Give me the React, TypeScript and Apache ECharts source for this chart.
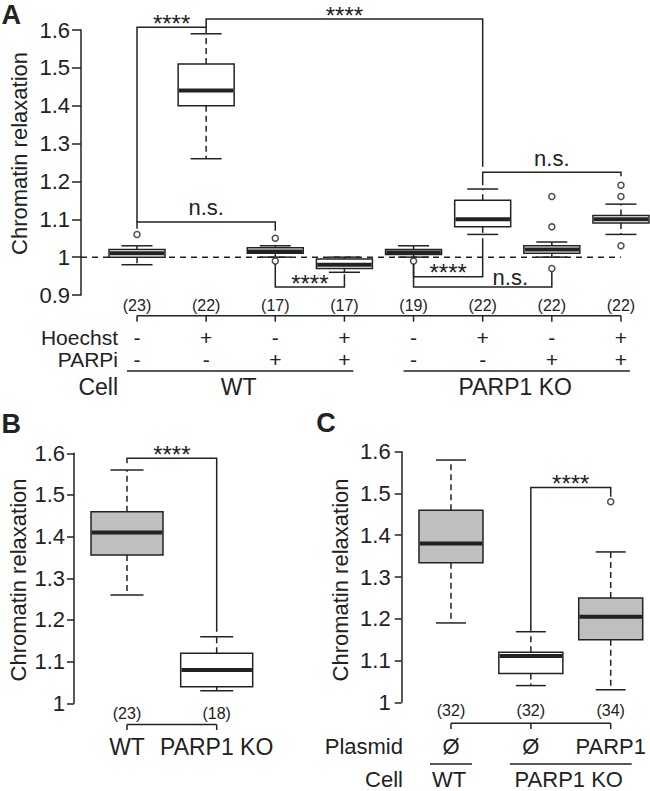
import React, { useEffect, useRef } from 'react';
import * as echarts from 'echarts';

const FONT = '"Liberation Sans", Arial, Helvetica, sans-serif';
const INK = '#222222';
const GRAY = '#bfbfbf';

// ---------------- Panel A ----------------
const hoechstA = ['-', '+', '-', '+', '-', '+', '-', '+'];
const parpiA = ['-', '-', '+', '+', '-', '-', '+', '+'];
const countsA = ['(23)', '(22)', '(17)', '(17)', '(19)', '(22)', '(22)', '(22)'];
const minA = [0.98, 1.26, 1.0, 0.96, 1.0, 1.06, 1.0, 1.06];
const q1A = [1.0, 1.4, 1.01, 0.97, 1.007, 1.08, 1.01, 1.09];
const medA = [1.01, 1.44, 1.015, 0.98, 1.012, 1.1, 1.02, 1.1];
const q3A = [1.02, 1.51, 1.025, 0.995, 1.02, 1.15, 1.03, 1.11];
const maxA = [1.03, 1.59, 1.03, 1.0, 1.03, 1.18, 1.04, 1.14];
const grayA = [false, false, false, false, false, false, false, false];
const outliersA = [
  [0, 1.06], [2, 1.05], [2, 0.99], [4, 0.99],
  [6, 1.16], [6, 1.08], [6, 0.97], [7, 1.19], [7, 1.16], [7, 1.03],
];
const cellA = [
  { name: 'WT', from: 0, to: 3 },
  { name: 'PARP1 KO', from: 4, to: 7 },
];
const bracketsA = [
  { from: 0, to: 1, level: 1.607, fromEnd: 1.093, toEnd: 1.592, label: '****', at: 0.5 },
  { from: 1, to: 5, level: 1.629, fromEnd: 1.607, toEnd: 1.239, label: '****', at: 3 },
  { from: 0, to: 2, level: 1.093, fromEnd: 1.075, toEnd: 1.07, label: 'n.s.', at: 1 },
  { from: 2, to: 3, level: 0.921, fromEnd: 0.982, toEnd: 0.955, label: '****', at: 2.5 },
  { from: 4, to: 5, level: 0.948, fromEnd: 0.982, toEnd: 1.05, label: '****', at: 4.5 },
  { from: 4, to: 6, level: 0.921, fromEnd: 0.982, toEnd: 0.962, label: 'n.s.', at: 5.4 },
  { from: 5, to: 7, level: 1.224, fromEnd: 1.19, toEnd: 1.214, label: 'n.s.', at: 6 },
];
const refLineA = 1.0;

// ---------------- Panel B ----------------
const cellB = ['WT', 'PARP1 KO'];
const countsB = ['(23)', '(18)'];
const minB = [1.26, 1.03];
const q1B = [1.356, 1.04];
const medB = [1.41, 1.08];
const q3B = [1.46, 1.12];
const maxB = [1.56, 1.16];
const grayB = [true, false];
const bracketsB = [
  { from: 0, to: 1, level: 1.588, fromEnd: 1.576, toEnd: 1.172, label: '****', at: 0.5 },
];

// ---------------- Panel C ----------------
const plasmidC = ['Ø', 'Ø', 'PARP1'];
const countsC = ['(32)', '(32)', '(34)'];
const minC = [1.19, 1.04, 1.03];
const q1C = [1.334, 1.069, 1.15];
const medC = [1.38, 1.111, 1.205];
const q3C = [1.46, 1.12, 1.25];
const maxC = [1.58, 1.169, 1.36];
const grayC = [true, false, true];
const outliersC = [[2, 1.48]];
const cellC = [
  { name: 'WT', from: 0, to: 0 },
  { name: 'PARP1 KO', from: 1, to: 2 },
];
const bracketsC = [
  { from: 1, to: 2, level: 1.514, fromEnd: 1.17, toEnd: 1.492, label: '****', at: 1.5 },
];

const zip5 = (a: number[], b: number[], c: number[], d: number[], e: number[]) =>
  a.map((v, i) => [i, v, b[i], c[i], d[i], e[i]]);

const txtStyle = (text: string, size: number, extra: any = {}) => ({
  text,
  fontSize: size,
  lineHeight: Math.round(size * 0.9),
  fontFamily: FONT,
  fill: INK,
  align: 'center',
  verticalAlign: 'middle',
  ...extra,
});

function boxSeries(gi: number, data: number[][], gray: boolean[], boxW: number, capW: number) {
  return {
    type: 'custom',
    xAxisIndex: gi,
    yAxisIndex: gi,
    clip: false,
    z: 3,
    data,
    encode: { x: 0, y: [1, 2, 3, 4, 5] },
    renderItem: (params: any, api: any) => {
      const i = api.value(0);
      const p = (v: number) => api.coord([i, v]);
      const [cx, yMin] = p(api.value(1));
      const yQ1 = p(api.value(2))[1];
      const yMed = p(api.value(3))[1];
      const yQ3 = p(api.value(4))[1];
      const yMax = p(api.value(5))[1];
      const h = boxW / 2;
      const c = capW / 2;
      const ln = (x1: number, y1: number, x2: number, y2: number, extra: any = {}) => ({
        type: 'line',
        shape: { x1, y1, x2, y2 },
        style: { stroke: INK, lineWidth: 1.5, ...extra },
      });
      return {
        type: 'group',
        children: [
          ln(cx, yQ3, cx, yMax, { lineDash: [6, 4] }),
          ln(cx, yQ1, cx, yMin, { lineDash: [6, 4] }),
          ln(cx - c, yMax, cx + c, yMax),
          ln(cx - c, yMin, cx + c, yMin),
          {
            type: 'rect',
            shape: { x: cx - h, y: yQ3, width: boxW, height: yQ1 - yQ3 },
            style: { fill: gray[params.dataIndex] ? GRAY : '#ffffff', stroke: INK, lineWidth: 1.5 },
          },
          ln(cx - h + 0.75, yMed, cx + h - 0.75, yMed, { lineWidth: 4 }),
        ],
      };
    },
  };
}

function bracketSeries(gi: number, brackets: any[]) {
  return {
    type: 'custom',
    xAxisIndex: gi,
    yAxisIndex: gi,
    clip: false,
    z: 4,
    data: brackets.map((b) => [b.from, b.level]),
    encode: { x: 0, y: 1 },
    renderItem: (params: any, api: any) => {
      const b = brackets[params.dataIndex];
      const a = api.coord([b.from, b.fromEnd]);
      const l1 = api.coord([b.from, b.level]);
      const l2 = api.coord([b.to, b.level]);
      const e = api.coord([b.to, b.toEnd]);
      const t = api.coord([b.at, b.level]);
      const star = b.label === '****';
      const below = b.level < b.fromEnd;
      const gap = star ? 4 : below ? 10 : 14;
      return {
        type: 'group',
        children: [
          {
            type: 'polyline',
            shape: { points: [a, l1, l2, e] },
            style: { stroke: INK, lineWidth: 1.5, fill: null },
          },
          {
            type: 'text',
            x: t[0],
            y: t[1] - gap,
            style: txtStyle(b.label, star ? 24 : 22),
          },
        ],
      };
    },
  };
}

function outlierSeries(gi: number, data: number[][]) {
  return {
    type: 'scatter',
    xAxisIndex: gi,
    yAxisIndex: gi,
    z: 5,
    symbol: 'circle',
    symbolSize: 6,
    itemStyle: { color: '#ffffff', borderColor: INK, borderWidth: 1.5 },
    data,
  };
}

// per-category labels under the plot: rows of texts + bracket with ticks
function categoryRowsSeries(
  gi: number,
  n: number,
  rows: { texts: string[]; y: number; size: number }[],
  bracketY: number,
  tickLen: number
) {
  const data = Array.from({ length: n }, (_, i) => [i, 0]);
  return {
    type: 'custom',
    xAxisIndex: gi,
    yAxisIndex: gi,
    clip: false,
    z: 4,
    data,
    encode: { x: 0 },
    renderItem: (params: any, api: any) => {
      const i = params.dataIndex;
      const cx = api.coord([i, 1])[0];
      const children: any[] = [
        {
          type: 'line',
          shape: { x1: cx, y1: bracketY, x2: cx, y2: bracketY + tickLen },
          style: { stroke: INK, lineWidth: 1.5 },
        },
      ];
      if (i === 0) {
        const xe = api.coord([n - 1, 1])[0];
        children.push({
          type: 'line',
          shape: { x1: cx, y1: bracketY, x2: xe, y2: bracketY },
          style: { stroke: INK, lineWidth: 1.5 },
        });
      }
      rows.forEach((r) => {
        children.push({
          type: 'text',
          x: cx,
          y: r.y,
          style: txtStyle(r.texts[i], r.size),
        });
      });
      return { type: 'group', children };
    },
  };
}

function groupSeries(
  gi: number,
  groups: any[],
  lineY: number,
  labelY: number,
  padL: number,
  padR: number,
  size: number
) {
  return {
    type: 'custom',
    xAxisIndex: gi,
    yAxisIndex: gi,
    clip: false,
    z: 4,
    data: groups.map((g) => [g.from, 0]),
    encode: { x: 0 },
    renderItem: (params: any, api: any) => {
      const g = groups[params.dataIndex];
      const x1 = api.coord([g.from, 1])[0];
      const x2 = api.coord([g.to, 1])[0];
      return {
        type: 'group',
        children: [
          {
            type: 'line',
            shape: { x1: x1 - padL, y1: lineY, x2: x2 + padR, y2: lineY },
            style: { stroke: INK, lineWidth: 1.5 },
          },
          {
            type: 'text',
            x: (x1 + x2) / 2 - 2,
            y: labelY,
            style: txtStyle(g.name, size),
          },
        ],
      };
    },
  };
}

function refLineSeries(gi: number, x0: number, x1: number, y: number) {
  return {
    type: 'custom',
    xAxisIndex: gi,
    yAxisIndex: gi,
    clip: false,
    z: 2,
    data: [[x0, y, x1]],
    encode: { x: 0, y: 1 },
    renderItem: (params: any, api: any) => {
      const a = api.coord([api.value(0), api.value(1)]);
      const b = api.coord([api.value(2), api.value(1)]);
      return {
        type: 'line',
        shape: { x1: a[0], y1: a[1], x2: b[0], y2: b[1] },
        style: { stroke: INK, lineWidth: 1.5, lineDash: [6, 5] },
      };
    },
  };
}

function yAxis(gi: number, min: number, max: number, margin: number, tick: number) {
  return {
    gridIndex: gi,
    type: 'value',
    min,
    max,
    interval: 0.1,
    axisLine: { show: true, onZero: false, lineStyle: { color: INK, width: 1.5 } },
    axisTick: { show: true, length: tick, lineStyle: { color: INK, width: 1.5 } },
    axisLabel: { fontSize: 22, color: INK, fontFamily: FONT, margin },
    splitLine: { show: false },
  };
}

const xMinA = -0.81;

function buildOption() {
  const text = (t: string, x: number, y: number, opts: any = {}) => ({
    type: 'text',
    x,
    y,
    rotation: opts.rotation || 0,
    style: txtStyle(t, opts.size || 22, {
      fontWeight: opts.bold ? 'bold' : 'normal',
      align: opts.align || 'center',
    }),
  });
  return {
    animation: false,
    backgroundColor: '#ffffff',
    grid: [
      { left: 81, top: 30, width: 569, height: 265 },
      { left: 74, top: 453.3, width: 226, height: 250 },
      { left: 401.7, top: 451.7, width: 246.3, height: 250.6 },
    ],
    xAxis: [
      { gridIndex: 0, type: 'value', min: xMinA, max: 7.42, show: false },
      { gridIndex: 1, type: 'value', min: -0.591, max: 1.929, show: false },
      { gridIndex: 2, type: 'value', min: -0.617, max: 2.467, show: false },
    ],
    yAxis: [yAxis(0, 0.9, 1.6, 11, 9), yAxis(1, 1.0, 1.6, 9, 7), yAxis(2, 1.0, 1.6, 11, 7)],
    series: [
      refLineSeries(0, xMinA, hoechstA.length - 1, refLineA),
      boxSeries(0, zip5(minA, q1A, medA, q3A, maxA), grayA, 56, 31),
      outlierSeries(0, outliersA),
      bracketSeries(0, bracketsA),
      categoryRowsSeries(
        0,
        hoechstA.length,
        [
          { texts: countsA, y: 305.5, size: 16 },
          { texts: hoechstA, y: 337.7, size: 21 },
          { texts: parpiA, y: 359, size: 21 },
        ],
        315.7,
        6
      ),
      groupSeries(0, cellA, 371, 386.5, 10, 9, 23),

      boxSeries(1, zip5(minB, q1B, medB, q3B, maxB), grayB, 72, 33),
      bracketSeries(1, bracketsB),
      categoryRowsSeries(
        1,
        cellB.length,
        [
          { texts: countsB, y: 713, size: 16 },
          { texts: cellB, y: 746.5, size: 23 },
        ],
        724.5,
        5.5
      ),

      boxSeries(2, zip5(minC, q1C, medC, q3C, maxC), grayC, 64, 30),
      outlierSeries(2, outliersC),
      bracketSeries(2, bracketsC),
      categoryRowsSeries(
        2,
        plasmidC.length,
        [
          { texts: countsC, y: 710, size: 16 },
          { texts: plasmidC, y: 746.7, size: 22 },
        ],
        723.3,
        5.7
      ),
      groupSeries(2, cellC, 764, 779.5, 21, 21, 22),
    ],
    graphic: [
      text('A', 11.2, 14.5, { size: 27, bold: true }),
      text('B', 11.2, 424, { size: 27, bold: true }),
      text('C', 326, 423, { size: 27, bold: true }),
      text('Chromatin relaxation', 19, 153.5, { rotation: Math.PI / 2 }),
      text('Chromatin relaxation', 18, 580, { rotation: Math.PI / 2 }),
      text('Chromatin relaxation', 340, 580, { rotation: Math.PI / 2 }),
      text('Hoechst', 118, 337.7, { align: 'right', size: 21 }),
      text('PARPi', 118, 359, { align: 'right', size: 21 }),
      text('Cell', 118, 386.5, { align: 'right', size: 23 }),
      text('Plasmid', 403, 746.7, { align: 'right' }),
      text('Cell', 403, 779.5, { align: 'right' }),
    ],
  };
}

export default function App() {
  const ref = useRef<HTMLDivElement>(null);
  useEffect(() => {
    const chart = echarts.init(ref.current as HTMLDivElement, undefined, { renderer: 'svg' });
    chart.setOption(buildOption() as any);
    return () => chart.dispose();
  }, []);
  return (
    <div
      ref={ref}
      style={{ position: 'fixed', left: 0, top: 0, width: 650, height: 791, background: '#ffffff' }}
    />
  );
}
